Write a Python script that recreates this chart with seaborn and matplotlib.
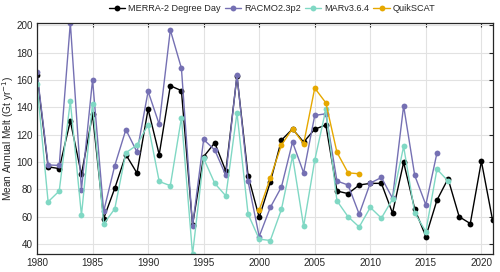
import matplotlib
matplotlib.use("Agg")
import matplotlib.pyplot as plt
import seaborn as sns
import pandas as pd

years = list(range(1980, 2022))

merra = [164, 96.5, 95.2, 130, 90.9, 134.8, 58.6, 80.8, 105.4, 91.9,
         138.7, 105.4, 155.8, 152.2, 54, 103.9, 114.1, 93.3, 163, 89.9,
         59.5, 85.4, 116, 124.2, 114.6, 124, 127.1, 78.8, 76.9, 83.2,
         84.4, 84.4, 62.7, 99.8, 65.6, 45.5, 72.1, 87.8, 60, 55,
         100.6, 57.8]
racmo = [165.5, 97.9, 97.5, 201.9, 79.8, 160.2, 63.9, 97.4, 123.7, 107.3,
         151.7, 127.6, 196.6, 168.6, 53.2, 116.5, 108.8, 90.2, 163.8, 85.8,
         45.5, 66.8, 81.7, 114.6, 92.1, 134.1, 135.3, 86.1, 83.2, 61.9,
         84.6, 88.7, 73.5, 141.1, 90.2, 68.7, 106.6]
mar = [156.8, 70.9, 78.8, 144.5, 61, 142.8, 54.7, 65.8, 106.8, 112.4,
       127.4, 85.8, 82.7, 132.4, 32.5, 102.7, 84.4, 75.2, 136, 61.9,
       43.6, 42.6, 65.3, 104.2, 53, 101.3, 138.5, 71.6, 60, 52.5,
       66.8, 59, 72.8, 111.4, 62.7, 49.1, 94.8, 86.1]
quikscat_years = list(range(2000, 2010))
quikscat = [64.8, 88.3, 112.4, 124.5, 113.3, 154.1, 143.3, 107.1, 92.1, 91.4]

labels = ["MERRA-2 Degree Day", "RACMO2.3p2", "MARv3.6.4", "QuikSCAT"]
colors = ["#000000", "#7570B3", "#80D8C4", "#E6A800"]

frames = [
    pd.DataFrame({"year": years, "melt": merra, "model": labels[0]}),
    pd.DataFrame({"year": years[:len(racmo)], "melt": racmo, "model": labels[1]}),
    pd.DataFrame({"year": years[:len(mar)], "melt": mar, "model": labels[2]}),
    pd.DataFrame({"year": quikscat_years, "melt": quikscat, "model": labels[3]}),
]
df = pd.concat(frames, ignore_index=True)

sns.set_theme(style="white")
plt.rcParams["font.family"] = ["Liberation Sans", "DejaVu Sans"]
plt.rcParams["font.size"] = 7

fig = plt.figure(figsize=(5, 2.72), dpi=100)
ax = fig.add_axes([0.074, 0.065, 0.911, 0.852])

sns.lineplot(data=df, x="year", y="melt", hue="model", hue_order=labels,
             palette=colors, marker="o", markersize=4.2, markeredgewidth=0,
             linewidth=1.0, ax=ax, legend=True)

ax.set_xlim(1980, 2021)
ax.set_ylim(32.5, 202)
ax.set_xticks(range(1980, 2021, 5))
ax.set_yticks(range(40, 201, 20))
ax.grid(True, color="#e2e2e2", linewidth=0.8)
ax.set_axisbelow(True)
ax.tick_params(direction="in", length=3, width=0.8, top=True, right=True,
               labelsize=7.1, colors="#262626", pad=3)
for s in ax.spines.values():
    s.set_color("#262626")
    s.set_linewidth(0.9)
ax.set_xlabel("")
ax.set_ylabel("Mean Annual Melt (Gt yr$^{-1}$)", fontsize=7.3, color="#262626")
ax.yaxis.set_label_coords(-0.046, 0.5)

handles, _ = ax.get_legend_handles_labels()
ax.legend(handles, labels, loc="center", bbox_to_anchor=(0.516, 1.06),
          ncol=4, frameon=False, fontsize=6.6, handlelength=1.8,
          handletextpad=0.3, columnspacing=0.45, borderaxespad=0)

fig.savefig("out.png", dpi=100)
